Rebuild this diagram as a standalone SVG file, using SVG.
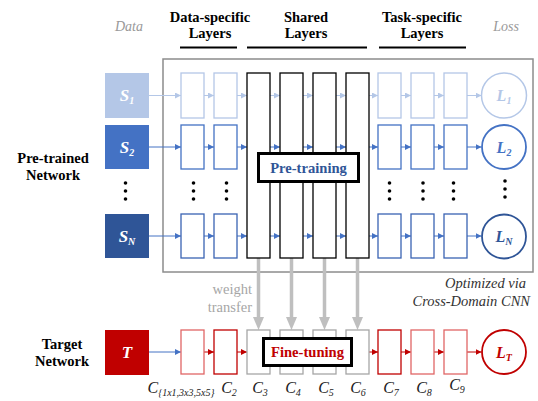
<svg xmlns="http://www.w3.org/2000/svg" width="538" height="401" viewBox="0 0 538 401" font-family="'Liberation Serif', 'DejaVu Serif', serif">
<defs>
<style>
text{font-family:'Liberation Serif','DejaVu Serif',serif}
.hdr{font-size:14.5px;font-weight:bold;fill:#000;text-anchor:middle}
.gi{font-size:14px;font-style:italic;fill:#999;text-anchor:middle}
.side{font-size:14.5px;font-weight:bold;fill:#000;text-anchor:middle}
.sl{font-size:17px;font-weight:bold;font-style:italic;fill:#fff;text-anchor:middle}
.ll{font-size:16px;font-weight:bold;font-style:italic;text-anchor:middle}
.cl{font-size:16px;font-style:italic;fill:#222;text-anchor:middle}
.sub{font-size:10px}
.bx{fill:#fff;stroke-width:1.3}
.r1{stroke:#b4c7e7}
.r2{stroke:#4472c4}
.rn{stroke:#3a63b3}
.rt{stroke:#c00000}
.rtl{stroke:#e06666}
.sh{fill:#fff;stroke:#000;stroke-width:1.3}
.shg{fill:#fff;stroke:#a6a6a6;stroke-width:1.3}
.a{fill:none;stroke-width:1}
.dot{fill:#000}
.wt{stroke:#bfbfbf;stroke-width:3.5;fill:none;marker-end:url(#mg)}
</style>
<marker id="ml" markerUnits="userSpaceOnUse" markerWidth="6" markerHeight="6" refX="6" refY="3" orient="auto"><path d="M0,0 L6,3 L0,6 z" fill="#b4c7e7"/></marker>
<marker id="mb" markerUnits="userSpaceOnUse" markerWidth="6" markerHeight="6" refX="6" refY="3" orient="auto"><path d="M0,0 L6,3 L0,6 z" fill="#4472c4"/></marker>
<marker id="mr" markerUnits="userSpaceOnUse" markerWidth="6" markerHeight="6" refX="6" refY="3" orient="auto"><path d="M0,0 L6,3 L0,6 z" fill="#c00000"/></marker>
<marker id="mg" markerUnits="userSpaceOnUse" markerWidth="13" markerHeight="11" refX="3" refY="5.5" orient="auto"><path d="M0,0 L13,5.5 L0,11 z" fill="#bfbfbf"/></marker>
</defs>

<!-- headers -->
<g id="headers">
<text class="gi" x="129" y="31">Data</text>
<text class="hdr" x="210" y="22">Data-specific</text>
<text class="hdr" x="210" y="38">Layers</text>
<line x1="180" y1="47.5" x2="237" y2="47.5" stroke="#000" stroke-width="2"/>
<text class="hdr" x="306" y="22">Shared</text>
<text class="hdr" x="306" y="38">Layers</text>
<line x1="247" y1="47.5" x2="367" y2="47.5" stroke="#000" stroke-width="2"/>
<text class="hdr" x="422" y="22">Task-specific</text>
<text class="hdr" x="422" y="38">Layers</text>
<line x1="379" y1="47.5" x2="466" y2="47.5" stroke="#000" stroke-width="2"/>
<text class="gi" x="506" y="31">Loss</text>
</g>

<g id="side-labels">
<text class="side" x="53" y="163">Pre-trained</text>
<text class="side" x="53" y="180">Network</text>
<text class="side" x="62" y="349">Target</text>
<text class="side" x="62" y="366">Network</text>
</g>

<!-- frame -->
<g id="frame">
<rect x="163" y="59" width="370" height="213" fill="none" stroke="#8c8c8c" stroke-width="1.5"/>
<text x="526" y="288" font-size="14.5" font-style="italic" fill="#333" text-anchor="end">Optimized via</text>
<text x="530" y="306" font-size="14.5" font-style="italic" fill="#333" text-anchor="end">Cross-Domain CNN</text>
</g>

<!-- connectors -->
<g id="connectors">
<g class="a" stroke="#b4c7e7" marker-end="url(#ml)">
<line x1="149" y1="95.5" x2="181" y2="95.5"/>
<line x1="204" y1="95.5" x2="214" y2="95.5"/>
<line x1="237" y1="95.5" x2="247" y2="95.5"/>
<line x1="270" y1="95.5" x2="280" y2="95.5"/>
<line x1="303" y1="95.5" x2="313" y2="95.5"/>
<line x1="336" y1="95.5" x2="346" y2="95.5"/>
<line x1="369" y1="95.5" x2="378" y2="95.5"/>
<line x1="401" y1="95.5" x2="411" y2="95.5"/>
<line x1="434" y1="95.5" x2="444" y2="95.5"/>
<line x1="467" y1="95.5" x2="481.5" y2="95.5"/>
</g>
<g class="a" stroke="#4472c4" marker-end="url(#mb)">
<line x1="149" y1="147" x2="181" y2="147"/>
<line x1="204" y1="147" x2="214" y2="147"/>
<line x1="237" y1="147" x2="247" y2="147"/>
<line x1="270" y1="147" x2="280" y2="147"/>
<line x1="303" y1="147" x2="313" y2="147"/>
<line x1="336" y1="147" x2="346" y2="147"/>
<line x1="369" y1="147" x2="378" y2="147"/>
<line x1="401" y1="147" x2="411" y2="147"/>
<line x1="434" y1="147" x2="444" y2="147"/>
<line x1="467" y1="147" x2="481.5" y2="147"/>
<line x1="149" y1="236" x2="181" y2="236"/>
<line x1="204" y1="236" x2="214" y2="236"/>
<line x1="237" y1="236" x2="247" y2="236"/>
<line x1="270" y1="236" x2="280" y2="236"/>
<line x1="303" y1="236" x2="313" y2="236"/>
<line x1="336" y1="236" x2="346" y2="236"/>
<line x1="369" y1="236" x2="378" y2="236"/>
<line x1="401" y1="236" x2="411" y2="236"/>
<line x1="434" y1="236" x2="444" y2="236"/>
<line x1="467" y1="236" x2="481.5" y2="236"/>
<line x1="149" y1="352" x2="181" y2="352"/>
</g>
<g class="a" stroke="#c00000" marker-end="url(#mr)">
<line x1="204" y1="352" x2="214" y2="352"/>
<line x1="237" y1="352" x2="247" y2="352"/>
<line x1="369" y1="352" x2="378" y2="352"/>
<line x1="401" y1="352" x2="411" y2="352"/>
<line x1="434" y1="352" x2="444" y2="352"/>
<line x1="467" y1="352" x2="481.5" y2="352"/>
</g>
<g id="weight-transfer">
<line class="wt" x1="258.5" y1="258" x2="258.5" y2="320"/>
<line class="wt" x1="291.5" y1="258" x2="291.5" y2="320"/>
<line class="wt" x1="324.5" y1="258" x2="324.5" y2="320"/>
<line class="wt" x1="357.5" y1="258" x2="357.5" y2="320"/>
<text x="252" y="294" font-size="14.5" fill="#a6a6a6" text-anchor="end">weight</text>
<text x="252" y="312" font-size="14.5" fill="#a6a6a6" text-anchor="end">transfer</text>
</g>
</g>

<!-- data nodes -->
<g id="S1"><rect x="105" y="73" width="44" height="45" fill="#b4c7e7"/><text class="sl" x="127" y="101">S<tspan class="sub" dy="3">1</tspan></text></g>
<g id="S2"><rect x="105" y="125" width="44" height="44" fill="#4472c4"/><text class="sl" x="127" y="153">S<tspan class="sub" dy="3">2</tspan></text></g>
<g id="SN"><rect x="105" y="214" width="44" height="44" fill="#2f5597"/><text class="sl" x="127" y="242">S<tspan class="sub" dy="3">N</tspan></text></g>
<g id="T"><rect x="105" y="330" width="44" height="45" fill="#c00000"/><text class="sl" x="127" y="358">T</text></g>

<!-- row 1 layers -->
<g id="row1-layers">
<rect class="bx r1" x="181" y="73" width="23" height="45"/>
<rect class="bx r1" x="214" y="73" width="23" height="45"/>
<rect class="bx r1" x="378" y="73" width="23" height="45"/>
<rect class="bx r1" x="411" y="73" width="23" height="45"/>
<rect class="bx r1" x="444" y="73" width="23" height="45"/>
</g>
<g id="row2-layers">
<rect class="bx r2" x="181" y="125" width="23" height="44"/>
<rect class="bx r2" x="214" y="125" width="23" height="44"/>
<rect class="bx r2" x="378" y="125" width="23" height="44"/>
<rect class="bx r2" x="411" y="125" width="23" height="44"/>
<rect class="bx r2" x="444" y="125" width="23" height="44"/>
</g>
<g id="rowN-layers">
<rect class="bx rn" x="181" y="214" width="23" height="44"/>
<rect class="bx rn" x="214" y="214" width="23" height="44"/>
<rect class="bx rn" x="378" y="214" width="23" height="44"/>
<rect class="bx rn" x="411" y="214" width="23" height="44"/>
<rect class="bx rn" x="444" y="214" width="23" height="44"/>
</g>

<!-- shared layers -->
<g id="shared-layers">
<rect class="sh" x="247" y="73" width="23" height="185"/>
<rect class="sh" x="280" y="73" width="23" height="185"/>
<rect class="sh" x="313" y="73" width="23" height="185"/>
<rect class="sh" x="346" y="73" width="23" height="185"/>
</g>
<g id="pre-training">
<rect x="258.5" y="153.5" width="100" height="28" fill="#fff" stroke="#000" stroke-width="3"/>
<text x="308.5" y="172.5" font-size="14.6" font-weight="bold" fill="#2f5597" text-anchor="middle">Pre-training</text>
</g>

<!-- dots -->
<g id="ellipses" class="dot">
<circle cx="125.5" cy="183" r="1.8"/><circle cx="125.5" cy="191" r="1.8"/><circle cx="125.5" cy="199" r="1.8"/>
<circle cx="193.5" cy="183" r="1.8"/><circle cx="193.5" cy="191" r="1.8"/><circle cx="193.5" cy="199" r="1.8"/>
<circle cx="226.5" cy="183" r="1.8"/><circle cx="226.5" cy="191" r="1.8"/><circle cx="226.5" cy="199" r="1.8"/>
<circle cx="389.5" cy="183" r="1.8"/><circle cx="389.5" cy="191" r="1.8"/><circle cx="389.5" cy="199" r="1.8"/>
<circle cx="423" cy="183" r="1.8"/><circle cx="423" cy="191" r="1.8"/><circle cx="423" cy="199" r="1.8"/>
<circle cx="453.5" cy="183" r="1.8"/><circle cx="453.5" cy="191" r="1.8"/><circle cx="453.5" cy="199" r="1.8"/>
<circle cx="505" cy="181" r="1.8"/><circle cx="505" cy="189" r="1.8"/><circle cx="505" cy="197" r="1.8"/>
</g>

<!-- losses -->
<g id="L1"><circle cx="504" cy="95.5" r="22.5" fill="#fff" stroke="#b4c7e7" stroke-width="1.5"/><text class="ll" x="504" y="101" fill="#b4c7e7">L<tspan class="sub" dy="3">1</tspan></text></g>
<g id="L2"><circle cx="504" cy="147" r="22" fill="#fff" stroke="#4472c4" stroke-width="1.8"/><text class="ll" x="504" y="152.5" fill="#4472c4">L<tspan class="sub" dy="3">2</tspan></text></g>
<g id="LN"><circle cx="504" cy="236.5" r="22" fill="#fff" stroke="#2f5597" stroke-width="1.8"/><text class="ll" x="504" y="242" fill="#2f5597">L<tspan class="sub" dy="3">N</tspan></text></g>
<g id="LT"><circle cx="504" cy="352" r="22" fill="#fff" stroke="#c00000" stroke-width="1.8"/><text class="ll" x="504" y="357.5" fill="#c00000">L<tspan class="sub" dy="3">T</tspan></text></g>

<!-- target row -->
<g id="target-layers">
<rect class="bx rtl" x="181" y="330" width="23" height="44"/>
<rect class="bx rt" x="214" y="330" width="23" height="44"/>
<rect class="shg" x="247" y="330" width="23" height="44"/>
<rect class="shg" x="280" y="330" width="23" height="44"/>
<rect class="shg" x="313" y="330" width="23" height="44"/>
<rect class="shg" x="346" y="330" width="23" height="44"/>
<rect class="bx rt" x="378" y="330" width="23" height="44"/>
<rect class="bx rtl" x="411" y="330" width="23" height="44"/>
<rect class="bx rtl" x="444" y="330" width="23" height="44"/>
</g>
<g id="fine-tuning">
<rect x="263.5" y="338.5" width="88" height="27" fill="#fff" stroke="#000" stroke-width="3"/>
<text x="307.5" y="357" font-size="14.6" font-weight="bold" fill="#c00000" text-anchor="middle">Fine-tuning</text>
</g>

<!-- layer labels -->
<g id="layer-labels">
<text class="cl" x="181" y="393">C<tspan class="sub" dy="3">{1x1,3x3,5x5}</tspan></text>
<text class="cl" x="229" y="393">C<tspan class="sub" dy="3">2</tspan></text>
<text class="cl" x="260" y="393">C<tspan class="sub" dy="3">3</tspan></text>
<text class="cl" x="293" y="393">C<tspan class="sub" dy="3">4</tspan></text>
<text class="cl" x="326" y="393">C<tspan class="sub" dy="3">5</tspan></text>
<text class="cl" x="358" y="393">C<tspan class="sub" dy="3">6</tspan></text>
<text class="cl" x="391" y="393">C<tspan class="sub" dy="3">7</tspan></text>
<text class="cl" x="424" y="393">C<tspan class="sub" dy="3">8</tspan></text>
<text class="cl" x="457" y="390">C<tspan class="sub" dy="3">9</tspan></text>
</g>
</svg>
